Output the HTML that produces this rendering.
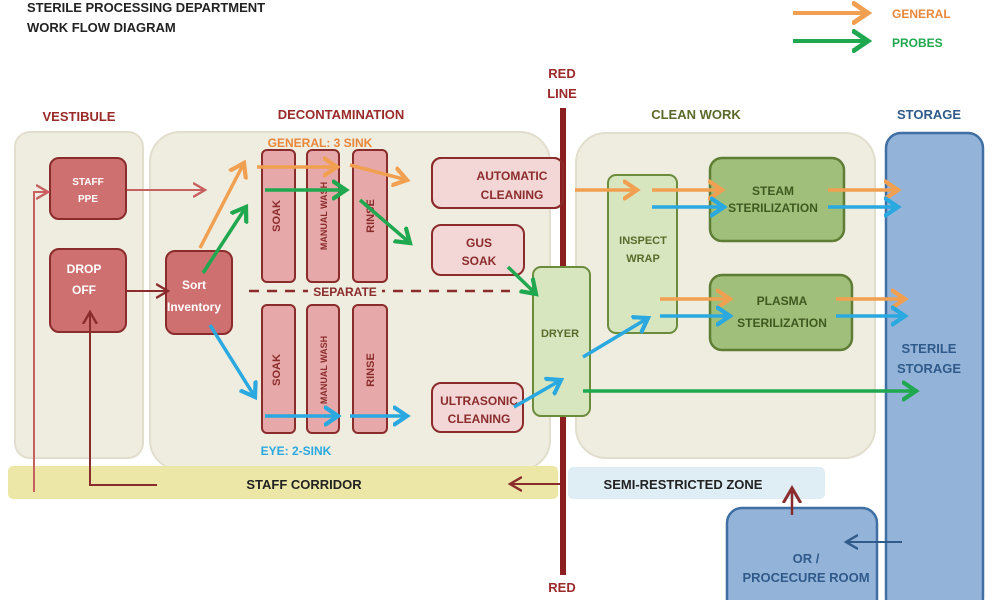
<!DOCTYPE html>
<html><head><style>body{margin:0;background:#fff}svg{display:block}text{font-family:"Liberation Sans",sans-serif;font-weight:bold}</style></head><body>
<svg width="1000" height="600" viewBox="0 0 1000 600" xmlns="http://www.w3.org/2000/svg">
<defs>
<marker id="o" markerWidth="6" markerHeight="6" refX="4" refY="3" orient="auto" markerUnits="strokeWidth"><path d="M0,0.3 L4,3 L0,5.7" fill="none" stroke="#f0a050" stroke-width="1.2"/></marker>
<marker id="g" markerWidth="6" markerHeight="6" refX="4" refY="3" orient="auto" markerUnits="strokeWidth"><path d="M0,0.3 L4,3 L0,5.7" fill="none" stroke="#1fa84f" stroke-width="1.2"/></marker>
<marker id="b" markerWidth="6" markerHeight="6" refX="4" refY="3" orient="auto" markerUnits="strokeWidth"><path d="M0,0.3 L4,3 L0,5.7" fill="none" stroke="#2aa8e0" stroke-width="1.2"/></marker>
<marker id="r" markerWidth="8" markerHeight="8" refX="6" refY="4" orient="auto" markerUnits="strokeWidth"><path d="M0,0.5 L6,4 L0,7.5" fill="none" stroke="#8b2c2c" stroke-width="1.2"/></marker>
<marker id="rl" markerWidth="8" markerHeight="8" refX="6" refY="4" orient="auto" markerUnits="strokeWidth"><path d="M0,0.5 L6,4 L0,7.5" fill="none" stroke="#c86060" stroke-width="1.2"/></marker>
<marker id="n" markerWidth="8" markerHeight="8" refX="6" refY="4" orient="auto" markerUnits="strokeWidth"><path d="M0,0.5 L6,4 L0,7.5" fill="none" stroke="#2f5a8a" stroke-width="1.2"/></marker>
</defs>
<text x="27" y="12" font-size="13" fill="#222">STERILE PROCESSING DEPARTMENT</text>
<text x="27" y="32" font-size="13" fill="#222">WORK FLOW DIAGRAM</text>
<line x1="793" y1="13" x2="868" y2="13" stroke="#f0a050" stroke-width="4" marker-end="url(#o)"/>
<text x="892" y="18" font-size="12" fill="#e8873a">GENERAL</text>
<line x1="793" y1="41" x2="868" y2="41" stroke="#1fa84f" stroke-width="4" marker-end="url(#g)"/>
<text x="892" y="47" font-size="12" fill="#1fa84f">PROBES</text>

<text x="79" y="121" font-size="13" fill="#9b2a2a" text-anchor="middle">VESTIBULE</text>
<text x="341" y="119" font-size="13" fill="#9b2a2a" text-anchor="middle">DECONTAMINATION</text>
<text x="562" y="78" font-size="13" fill="#9b2a2a" text-anchor="middle">RED</text>
<text x="562" y="98" font-size="13" fill="#9b2a2a" text-anchor="middle">LINE</text>
<text x="696" y="119" font-size="13" fill="#5a6a2a" text-anchor="middle">CLEAN WORK</text>
<text x="929" y="119" font-size="13" fill="#2f5a8a" text-anchor="middle">STORAGE</text>

<rect x="15" y="132" width="128" height="326" rx="15" fill="#efece0" stroke="#e2decd" stroke-width="2"/>
<rect x="150" y="132" width="400" height="338" rx="30" fill="#efece0" stroke="#e2decd" stroke-width="2"/>
<rect x="576" y="133" width="299" height="325" rx="30" fill="#efece0" stroke="#e2decd" stroke-width="2"/>
<rect x="886" y="133" width="97" height="480" rx="15" fill="#93b3d9" stroke="#3f6fa3" stroke-width="2.5"/>
<rect x="727" y="508" width="150" height="110" rx="15" fill="#93b3d9" stroke="#3f6fa3" stroke-width="2.5"/>
<text x="806" y="563" font-size="13" fill="#2f5a8a" text-anchor="middle">OR /</text>
<text x="806" y="582" font-size="13" fill="#2f5a8a" text-anchor="middle">PROCECURE ROOM</text>
<text x="929" y="353" font-size="13" fill="#2f5a8a" text-anchor="middle">STERILE</text>
<text x="929" y="373" font-size="13" fill="#2f5a8a" text-anchor="middle">STORAGE</text>

<rect x="8" y="466" width="550" height="33" rx="5" fill="#ece7a6"/>
<text x="304" y="489" font-size="13" fill="#222" text-anchor="middle">STAFF CORRIDOR</text>
<rect x="568" y="467" width="257" height="32" rx="5" fill="#dfeef5"/>
<text x="683" y="489" font-size="13" fill="#222" text-anchor="middle">SEMI-RESTRICTED ZONE</text>

<!-- vestibule boxes -->
<rect x="50" y="158" width="76" height="61" rx="9" fill="#cf7070" stroke="#8b2c2c" stroke-width="2"/>
<text x="88" y="185" font-size="10" fill="#fff" text-anchor="middle">STAFF</text>
<text x="88" y="202" font-size="10" fill="#fff" text-anchor="middle">PPE</text>
<rect x="50" y="249" width="76" height="83" rx="9" fill="#cf7070" stroke="#8b2c2c" stroke-width="2"/>
<text x="84" y="273" font-size="12" fill="#fff" text-anchor="middle">DROP</text>
<text x="84" y="294" font-size="12" fill="#fff" text-anchor="middle">OFF</text>
<rect x="166" y="251" width="66" height="83" rx="9" fill="#cf7070" stroke="#8b2c2c" stroke-width="2"/>
<text x="194" y="289" font-size="12" fill="#fff" text-anchor="middle">Sort</text>
<text x="194" y="311" font-size="12" fill="#fff" text-anchor="middle">Inventory</text>

<!-- sinks -->
<g fill="#e6a8a8" stroke="#8b2c2c" stroke-width="2">
<rect x="262" y="150" width="33" height="132" rx="5"/><rect x="307" y="150" width="32" height="132" rx="5"/><rect x="353" y="150" width="34" height="132" rx="5"/>
<rect x="262" y="305" width="33" height="128" rx="5"/><rect x="307" y="305" width="32" height="128" rx="5"/><rect x="353" y="305" width="34" height="128" rx="5"/>
</g>
<g fill="#8b2c2c" font-size="11">
<text transform="translate(280,216) rotate(-90)" text-anchor="middle">SOAK</text>
<text transform="translate(327,216) rotate(-90)" text-anchor="middle" font-size="9">MANUAL WASH</text>
<text transform="translate(374,216) rotate(-90)" text-anchor="middle">RINSE</text>
<text transform="translate(280,370) rotate(-90)" text-anchor="middle">SOAK</text>
<text transform="translate(327,370) rotate(-90)" text-anchor="middle" font-size="9">MANUAL WASH</text>
<text transform="translate(374,370) rotate(-90)" text-anchor="middle">RINSE</text>
</g>
<text x="320" y="147" font-size="12" fill="#e8873a" text-anchor="middle">GENERAL: 3 SINK</text>
<text x="296" y="455" font-size="12" fill="#2aa8e0" text-anchor="middle">EYE: 2-SINK</text>
<line x1="249" y1="291" x2="510" y2="291" stroke="#8b2c2c" stroke-width="2.5" stroke-dasharray="10,8"/>
<rect x="308" y="283" width="74" height="16" fill="#efece0"/>
<text x="345" y="296" font-size="12" fill="#8b2c2c" text-anchor="middle">SEPARATE</text>

<rect x="432" y="158" width="131" height="50" rx="9" fill="#f3d6d6" stroke="#8b2c2c" stroke-width="2"/>
<text x="512" y="180" font-size="12" fill="#8b2c2c" text-anchor="middle">AUTOMATIC</text>
<text x="512" y="199" font-size="12" fill="#8b2c2c" text-anchor="middle">CLEANING</text>
<rect x="432" y="225" width="92" height="50" rx="9" fill="#f3d6d6" stroke="#8b2c2c" stroke-width="2"/>
<text x="479" y="247" font-size="12" fill="#8b2c2c" text-anchor="middle">GUS</text>
<text x="479" y="265" font-size="12" fill="#8b2c2c" text-anchor="middle">SOAK</text>
<rect x="432" y="383" width="91" height="49" rx="9" fill="#f3d6d6" stroke="#8b2c2c" stroke-width="2"/>
<text x="479" y="405" font-size="12" fill="#8b2c2c" text-anchor="middle">ULTRASONIC</text>
<text x="479" y="423" font-size="12" fill="#8b2c2c" text-anchor="middle">CLEANING</text>

<!-- red line -->
<line x1="563" y1="108" x2="563" y2="575" stroke="#8b1f1f" stroke-width="6"/>
<text x="562" y="592" font-size="13" fill="#9b2a2a" text-anchor="middle">RED</text>
<rect x="432" y="158" width="131" height="50" rx="9" fill="#f3d6d6" stroke="#8b2c2c" stroke-width="2" fill-opacity="0"/>
<rect x="533" y="267" width="57" height="149" rx="8" fill="#d8e6c0" stroke="#6b8c3c" stroke-width="2"/>
<text x="560" y="337" font-size="11" fill="#5a6a2a" text-anchor="middle">DRYER</text>

<rect x="608" y="175" width="69" height="158" rx="8" fill="#d8e6c0" stroke="#6b8c3c" stroke-width="2"/>
<text x="643" y="244" font-size="11" fill="#5a6a2a" text-anchor="middle">INSPECT</text>
<text x="643" y="262" font-size="11" fill="#5a6a2a" text-anchor="middle">WRAP</text>
<rect x="710" y="158" width="134" height="83" rx="12" fill="#9fbf7a" stroke="#5e7d35" stroke-width="2.5"/>
<text x="773" y="195" font-size="12" fill="#3f5a1f" text-anchor="middle">STEAM</text>
<text x="773" y="212" font-size="12" fill="#3f5a1f" text-anchor="middle">STERILIZATION</text>
<rect x="710" y="275" width="142" height="75" rx="12" fill="#9fbf7a" stroke="#5e7d35" stroke-width="2.5"/>
<text x="782" y="305" font-size="12" fill="#3f5a1f" text-anchor="middle">PLASMA</text>
<text x="782" y="327" font-size="12" fill="#3f5a1f" text-anchor="middle">STERILIZATION</text>

<!-- red arrows -->
<polyline points="34,492 34,192 48,192" fill="none" stroke="#c86060" stroke-width="2" marker-end="url(#rl)"/>
<line x1="127" y1="190" x2="205" y2="190" stroke="#c86060" stroke-width="2" marker-end="url(#rl)"/>
<line x1="127" y1="291" x2="168" y2="291" stroke="#8b2c2c" stroke-width="2" marker-end="url(#r)"/>
<polyline points="157,485 90,485 90,312" fill="none" stroke="#8b2c2c" stroke-width="2" marker-end="url(#r)"/>
<line x1="560" y1="484" x2="510" y2="484" stroke="#8b2c2c" stroke-width="2" marker-end="url(#r)"/>
<line x1="792" y1="515" x2="792" y2="488" stroke="#8b2c2c" stroke-width="2.5" marker-end="url(#r)"/>
<line x1="902" y1="542" x2="846" y2="542" stroke="#2f5a8a" stroke-width="2" marker-end="url(#n)"/>

<!-- orange -->
<g stroke="#f0a050" stroke-width="3.5" fill="none">
<line x1="200" y1="248" x2="244" y2="163" marker-end="url(#o)"/>
<line x1="257" y1="167" x2="337" y2="167" marker-end="url(#o)"/>
<line x1="350" y1="165" x2="407" y2="180" marker-end="url(#o)"/>
<line x1="575" y1="190" x2="637" y2="190" marker-end="url(#o)"/>
<line x1="652" y1="190" x2="722" y2="190" marker-end="url(#o)"/>
<line x1="828" y1="190" x2="898" y2="190" marker-end="url(#o)"/>
<line x1="660" y1="299" x2="730" y2="299" marker-end="url(#o)"/>
<line x1="836" y1="299" x2="905" y2="299" marker-end="url(#o)"/>
</g>
<!-- green -->
<g stroke="#1fa84f" stroke-width="3.5" fill="none">
<line x1="203" y1="273" x2="246" y2="207" marker-end="url(#g)"/>
<line x1="265" y1="190" x2="346" y2="190" marker-end="url(#g)"/>
<line x1="360" y1="200" x2="410" y2="243" marker-end="url(#g)"/>
<line x1="508" y1="267" x2="536" y2="294" marker-end="url(#g)"/>
<line x1="583" y1="391" x2="916" y2="391" marker-end="url(#g)"/>
</g>
<!-- blue -->
<g stroke="#2aa8e0" stroke-width="3.5" fill="none">
<line x1="210" y1="325" x2="255" y2="397" marker-end="url(#b)"/>
<line x1="265" y1="416" x2="338" y2="416" marker-end="url(#b)"/>
<line x1="350" y1="416" x2="407" y2="416" marker-end="url(#b)"/>
<line x1="514" y1="407" x2="561" y2="380" marker-end="url(#b)"/>
<line x1="583" y1="357" x2="648" y2="318" marker-end="url(#b)"/>
<line x1="652" y1="207" x2="724" y2="207" marker-end="url(#b)"/>
<line x1="828" y1="207" x2="898" y2="207" marker-end="url(#b)"/>
<line x1="660" y1="316" x2="730" y2="316" marker-end="url(#b)"/>
<line x1="836" y1="316" x2="905" y2="316" marker-end="url(#b)"/>
</g>
</svg>
</body></html>
